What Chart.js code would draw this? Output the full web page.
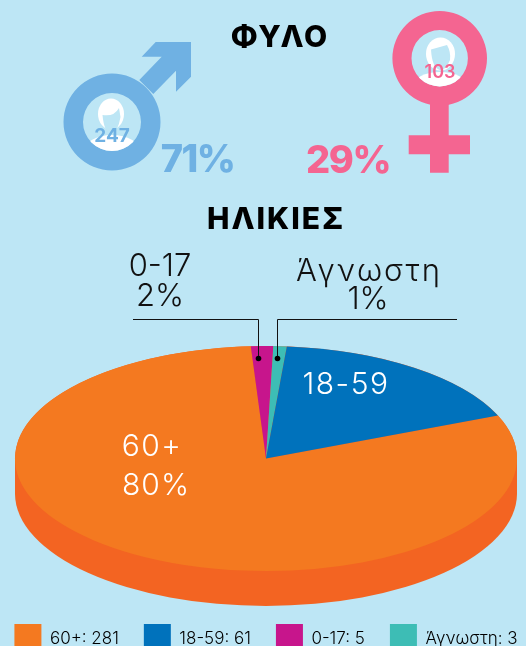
<!DOCTYPE html>
<html>
<head>
<meta charset="utf-8">
<title>Φύλο και ηλικίες</title>
<script src="https://cdn.jsdelivr.net/npm/chart.js@4/dist/chart.umd.min.js"></script>
<style>
    html, body { margin: 0; padding: 0; background: #bde6f5; overflow: hidden; }
    /* the legend swatches run off the bottom of the page, like the original */
    #wrap { position: relative; width: 526px; height: 646px; overflow: hidden; }
    canvas { display: block; }
</style>
</head>
<body>
<div id="wrap"><canvas id="pieChart" width="570" height="664"></canvas></div>
<script>
// Data, slices in clockwise drawing order
const ageLabels = ['60+', '0-17', 'Άγνωστη', '18-59'];
const ageCounts = [281, 5, 3, 61];
const agePercents = ['80%', '2%', '1%', ''];
const ageColors = ['#f47920', '#c7158c', '#3dbdb5', '#0072bc'];
const legendOrder = [0, 3, 1, 2];
const genderCounts = { male: 247, female: 103 };
const genderPercents = { male: '71%', female: '29%' };

const FONT = 'Inter, "Noto Sans", sans-serif';
const BG = '#bde6f5';
const MALE = '#6fb1e3';
const FEMALE = '#f46591';

// Where the flattened pie goes on the page
const PIE = { x: 266, y: 458.5, rx: 251, ry: 112.5, depth: 35, side: '#f36422' };

function text(ctx, str, x, y, size, weight, color, spacing) {
    ctx.font = `${weight} ${size}px ${FONT}`;
    ctx.letterSpacing = (spacing || 0) + 'px';
    ctx.fillStyle = color;
    ctx.textAlign = 'center';
    ctx.textBaseline = 'middle';
    ctx.fillText(str, x, y + 1.5);
    ctx.letterSpacing = '0px';
}

function poly(ctx, pts, color) {
    ctx.fillStyle = color;
    ctx.beginPath();
    pts.forEach((p, i) => i ? ctx.lineTo(p[0], p[1]) : ctx.moveTo(p[0], p[1]));
    ctx.closePath();
    ctx.fill();
}

function ring(ctx, x, y, outer, inner, color) {
    ctx.fillStyle = color;
    ctx.beginPath();
    ctx.arc(x, y, outer, 0, Math.PI * 2);
    ctx.arc(x, y, inner, 0, Math.PI * 2, true);
    ctx.fill();
}

function whiteEllipse(ctx, x, y, rx, ry) {
    ctx.fillStyle = '#fff';
    ctx.beginPath();
    ctx.ellipse(x, y, rx, ry, 0, 0, Math.PI * 2);
    ctx.fill();
}

function maleHead(ctx) {
    ctx.save();
    ctx.beginPath();
    ctx.arc(112, 122, 29, 0, Math.PI * 2);
    ctx.clip();
    whiteEllipse(ctx, 112, 151, 28, 16);
    whiteEllipse(ctx, 111, 114, 13, 15.5);
    ctx.fillStyle = BG;
    ctx.beginPath();
    ctx.moveTo(102.5, 115);
    ctx.quadraticCurveTo(114, 117, 119, 108);
    ctx.lineTo(120.5, 117);
    ctx.quadraticCurveTo(118, 132, 111, 134);
    ctx.quadraticCurveTo(104, 132, 102.5, 115);
    ctx.fill();
    ctx.restore();
}

function femaleHead(ctx) {
    ctx.save();
    ctx.beginPath();
    ctx.arc(439.7, 58.3, 28.2, 0, Math.PI * 2);
    ctx.clip();
    whiteEllipse(ctx, 440, 86, 27, 14);
    whiteEllipse(ctx, 440.5, 54, 14.5, 16.5);
    ctx.fillStyle = BG;
    ctx.beginPath();
    ctx.moveTo(431, 49.5);
    ctx.lineTo(447, 45);
    ctx.quadraticCurveTo(451, 52, 450, 60);
    ctx.quadraticCurveTo(446, 70, 440, 70);
    ctx.quadraticCurveTo(432, 68, 431, 49.5);
    ctx.fill();
    ctx.restore();
}

const gendersPlugin = {
    id: 'genders',
    // nudge the legend row left, the canvas is wider than the page so it stays on one line
    afterLayout(chart) {
        chart.legend.left -= 19;
        chart.legend.right -= 19;
    },
    beforeDraw(chart) {
        const ctx = chart.ctx;
        ctx.save();
        ctx.fillStyle = BG;
        ctx.fillRect(0, 0, chart.width, chart.height);

        // male sign
        ring(ctx, 112, 122, 48.5, 29, MALE);
        poly(ctx, [[141.7, 56.7], [155.7, 42], [191, 42], [191, 76.7], [176, 91.7], [176, 70.7], [153.3, 94], [139.3, 80], [161.7, 56.7]], MALE);
        maleHead(ctx);
        text(ctx, String(genderCounts.male), 112, 135, 19, 700, MALE);
        text(ctx, genderPercents.male, 197.5, 159, 38, 800, MALE, -1.5);

        // female sign
        ring(ctx, 439.7, 58.3, 47.3, 28.2, FEMALE);
        poly(ctx, [[430, 103], [448.7, 103], [448.7, 135.3], [470, 135.3], [470, 154.3], [448.7, 154.3], [448.7, 172.7], [430, 172.7], [430, 154.3], [408.7, 154.3], [408.7, 135.3], [430, 135.3]], FEMALE);
        femaleHead(ctx);
        text(ctx, String(genderCounts.female), 440, 71, 18, 600, FEMALE);
        text(ctx, genderPercents.female, 348, 160, 38, 800, FEMALE, -1.5);

        text(ctx, 'ΦΥΛΟ', 280, 36, 30, 800, '#000', 2);
        text(ctx, 'ΗΛΙΚΙΕΣ', 276, 218, 30, 800, '#000', 2);
        ctx.restore();
    }
};

// Squashes the round pie into an ellipse and puts a rim under it
const flatPiePlugin = {
    id: 'flatPie',
    beforeDatasetsDraw(chart) {
        const ctx = chart.ctx;
        const arc = chart.getDatasetMeta(0).data[0];
        ctx.save();
        ctx.fillStyle = PIE.side;
        ctx.beginPath();
        ctx.ellipse(PIE.x, PIE.y + PIE.depth, PIE.rx, PIE.ry, 0, 0, Math.PI);
        ctx.lineTo(PIE.x - PIE.rx, PIE.y);
        ctx.ellipse(PIE.x, PIE.y, PIE.rx, PIE.ry, 0, Math.PI, 0);
        ctx.closePath();
        ctx.fill();
        ctx.restore();

        ctx.save();
        ctx.translate(PIE.x, PIE.y);
        ctx.scale(PIE.rx / arc.outerRadius, PIE.ry / arc.outerRadius);
        ctx.translate(-arc.x, -arc.y);
    },
    afterDatasetsDraw(chart) {
        const ctx = chart.ctx;
        ctx.restore();
        ctx.save();

        // labels on the big slices
        text(ctx, ageLabels[3], 346, 383, 30, 300, '#fff', 1.5);
        text(ctx, ageLabels[0], 152, 445, 30, 300, '#fff', 1.5);
        text(ctx, agePercents[0], 156, 484, 30, 300, '#fff', 1);

        // leader lines for the two thin slices
        text(ctx, ageLabels[1], 160, 265, 31, 300, '#111');
        text(ctx, agePercents[1], 160, 295, 31, 300, '#111');
        text(ctx, ageLabels[2], 369, 270, 31, 300, '#111', 2);
        text(ctx, agePercents[2], 368, 298, 31, 300, '#111');
        ctx.strokeStyle = '#111';
        ctx.lineWidth = 1;
        ctx.beginPath();
        ctx.moveTo(133, 319.5); ctx.lineTo(258.5, 319.5); ctx.lineTo(258.5, 358);
        ctx.moveTo(457, 319.5); ctx.lineTo(277.5, 319.5); ctx.lineTo(277.5, 358);
        ctx.stroke();
        ctx.fillStyle = '#000';
        [258.5, 277.5].forEach(x => {
            ctx.beginPath();
            ctx.arc(x, 358.5, 2.8, 0, Math.PI * 2);
            ctx.fill();
        });
        ctx.restore();
    }
};

new Chart(document.getElementById('pieChart').getContext('2d'), {
    type: 'pie',
    data: {
        labels: ageLabels,
        datasets: [{
            data: ageCounts,
            backgroundColor: ageColors,
            borderWidth: 0
        }]
    },
    options: {
        responsive: false,
        animation: false,
        rotation: 67.5,
        plugins: {
            tooltip: { enabled: false },
            legend: {
                position: 'bottom',
                align: 'center',
                labels: {
                    boxWidth: 27,
                    boxHeight: 30,
                    padding: 25,
                    color: '#222',
                    font: { family: FONT, size: 17, weight: 300 },
                    generateLabels: () => legendOrder.map(i => ({
                        text: `${ageLabels[i]}: ${ageCounts[i]}`,
                        fillStyle: ageColors[i],
                        strokeStyle: ageColors[i],
                        lineWidth: 0,
                        index: i
                    }))
                }
            }
        }
    },
    plugins: [gendersPlugin, flatPiePlugin]
});
</script>
</body>
</html>
